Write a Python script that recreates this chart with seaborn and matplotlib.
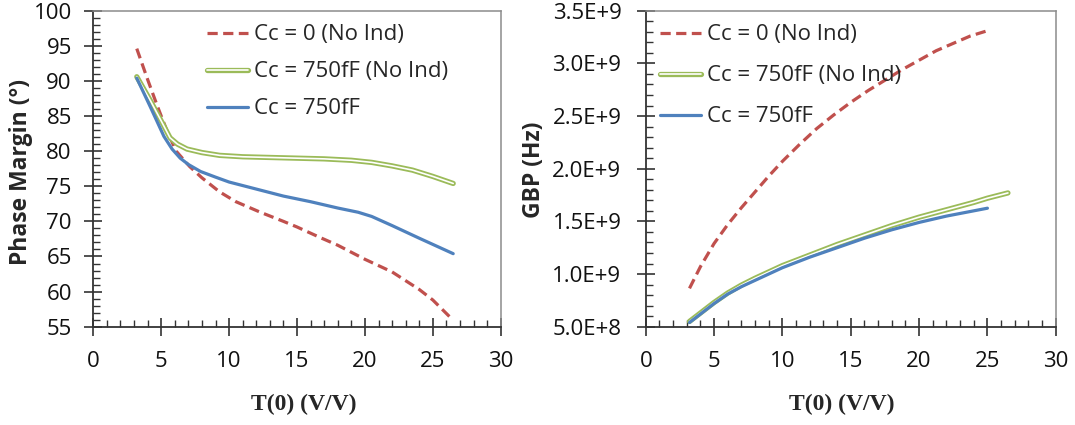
import numpy as np
import matplotlib
matplotlib.use("Agg")
import matplotlib.pyplot as plt
import matplotlib.patheffects as pe
from matplotlib.ticker import MultipleLocator, FuncFormatter
import seaborn as sns

# ---------------- data ----------------
# Phase margin panel
pm_red_x = [3.2, 4, 4.7, 5.4, 6.1, 7.1, 8, 9.3, 10.5, 12.3, 14, 15, 16.7, 18, 20, 22, 24, 25, 26.3]
pm_red_y = [94.6, 90.2, 86.5, 83.0, 80.0, 77.8, 76.2, 74.2, 72.8, 71.3, 70.0, 69.2, 67.7, 66.6, 64.6, 62.8, 60.3, 58.8, 56.3]

pm_green_x = [3.2, 4.2, 5, 5.65, 6.2, 6.9, 8, 9.3, 11, 13, 15, 17, 19, 20.5, 22, 23.5, 25, 26.5]
pm_green_y = [90.6, 87.2, 84.3, 81.9, 81.0, 80.3, 79.8, 79.4, 79.2, 79.1, 79.0, 78.9, 78.7, 78.4, 77.9, 77.3, 76.4, 75.4]

pm_blue_x = [3.2, 4.2, 5.2, 5.8, 6.4, 7, 7.9, 9, 10, 12, 14, 16, 18, 19.5, 20.5, 22, 24, 26.5]
pm_blue_y = [90.4, 86.3, 82.1, 80.3, 79.0, 78.1, 77.1, 76.3, 75.6, 74.6, 73.6, 72.8, 71.9, 71.3, 70.7, 69.4, 67.6, 65.4]

# GBP panel
gbp_red_x = [3.2, 4, 5, 6, 7, 8, 9, 10, 11.25, 12.5, 13.75, 15, 16.25, 17.5, 18.75, 20, 21.25, 22.5, 23.75, 25]
gbp_red_y = [0.864e9, 1.07e9, 1.29e9, 1.47e9, 1.63e9, 1.78e9, 1.93e9, 2.07e9, 2.23e9, 2.38e9, 2.51e9, 2.63e9,
             2.74e9, 2.84e9, 2.94e9, 3.03e9, 3.12e9, 3.19e9, 3.26e9, 3.31e9]

gbp_green_x = [3.2, 4, 5, 6, 7, 8, 9, 10, 12, 14, 16, 18, 20, 22, 24, 25, 26.5]
gbp_green_y = [0.55e9, 0.63e9, 0.73e9, 0.82e9, 0.895e9, 0.96e9, 1.02e9, 1.08e9, 1.18e9, 1.28e9, 1.37e9,
               1.46e9, 1.54e9, 1.61e9, 1.68e9, 1.72e9, 1.77e9]

gbp_blue_x = [3.2, 4, 5, 6, 7, 8, 9, 10, 12, 14, 16, 18, 20, 22, 24, 25]
gbp_blue_y = [0.54e9, 0.62e9, 0.72e9, 0.81e9, 0.88e9, 0.94e9, 1.0e9, 1.06e9, 1.16e9, 1.25e9, 1.34e9,
              1.42e9, 1.49e9, 1.55e9, 1.60e9, 1.625e9]

labels = ["Cc = 0 (No Ind)", "Cc = 750fF (No Ind)", "Cc = 750fF"]
xticks = [0, 5, 10, 15, 20, 25, 30]

RED = "#C0504D"
GREEN = "#9BBB59"
BLUE = "#4F81BD"

# ---------------- style ----------------
sns.set_style("white")
plt.rcParams["font.family"] = ["Open Sans", "DejaVu Sans"]

fig = plt.figure(figsize=(10.75, 4.25), dpi=100)
ax1 = fig.add_axes([0.0868, 0.2313, 0.379, 0.7435])
ax2 = fig.add_axes([0.6007, 0.2313, 0.3814, 0.7435])

green_fx = [pe.Stroke(linewidth=3.8, foreground=GREEN), pe.Normal()]


def draw(ax, rx, ry, gx, gy, bx, by):
    sns.lineplot(x=rx, y=ry, ax=ax, color=RED, linewidth=2.3, dashes=False,
                 label=labels[0], sort=False, estimator=None)
    ax.lines[-1].set_linestyle((0, (3.2, 1.7)))
    ax.lines[-1].set_dash_capstyle("butt")
    sns.lineplot(x=gx, y=gy, ax=ax, color="white", linewidth=1.2,
                 label=labels[1], sort=False, estimator=None)
    ax.lines[-1].set_path_effects(green_fx)
    sns.lineplot(x=bx, y=by, ax=ax, color=BLUE, linewidth=2.3,
                 label=labels[2], sort=False, estimator=None)


draw(ax1, pm_red_x, pm_red_y, pm_green_x, pm_green_y, pm_blue_x, pm_blue_y)
draw(ax2, gbp_red_x, gbp_red_y, gbp_green_x, gbp_green_y, gbp_blue_x, gbp_blue_y)

for ax in (ax1, ax2):
    ax.set_xlim(0, 30)
    ax.set_xticks(xticks)
    ax.xaxis.set_minor_locator(MultipleLocator(1))
    for side in ("left", "bottom"):
        ax.spines[side].set_color("#333333")
        ax.spines[side].set_linewidth(1.3)
    for side in ("top", "right"):
        ax.spines[side].set_color("#8c8c8c")
        ax.spines[side].set_linewidth(1.1)
    ax.tick_params(which="major", direction="inout", length=13, width=1.2,
                   labelsize=16, color="#333333", labelcolor="#111111")
    ax.tick_params(which="minor", direction="in", length=5, width=1.0, color="#333333")
    ax.tick_params(axis="x", which="both", bottom=True)
    ax.tick_params(axis="y", which="both", left=True)
    ax.tick_params(axis="x", which="major", pad=11)
    ax.set_xlabel("T(0) (V/V)", fontsize=17, fontweight="bold",
                  family=["Liberation Serif"], va="center")

ax1.xaxis.set_label_coords(0.517, -0.247)
ax2.xaxis.set_label_coords(0.479, -0.247)

ax1.set_ylim(55, 100)
ax1.set_yticks(np.arange(55, 101, 5))
ax1.yaxis.set_minor_locator(MultipleLocator(1))
ax1.tick_params(axis="y", which="major", pad=9)
ax1.set_ylabel("Phase Margin (°)", fontsize=16.5, fontweight="bold", va="center")
ax1.yaxis.set_label_coords(-0.178, 0.4905)

ax2.set_ylim(0.5e9, 3.5e9)
ax2.set_yticks(np.arange(0.5e9, 3.51e9, 0.5e9))
ax2.yaxis.set_minor_locator(MultipleLocator(0.1e9))
ax2.tick_params(axis="y", which="major", pad=11)


def sci(v, pos):
    if v <= 0:
        return "0"
    e = int(np.floor(np.log10(v) + 1e-9))
    m = v / 10 ** e
    return f"{m:.1f}E+{e}"


ax2.yaxis.set_major_formatter(FuncFormatter(sci))
ax2.set_ylabel("GBP (Hz)", fontsize=16.5, fontweight="bold", va="center")
ax2.yaxis.set_label_coords(-0.272, 0.496)

leg_kw = dict(frameon=False, fontsize=16, handlelength=1.85, handletextpad=0.27,
              borderpad=0, borderaxespad=0)
ax1.legend(loc="upper left", bbox_to_anchor=(0.279, 0.957), labelspacing=0.72, **leg_kw)
ax2.legend(loc="upper left", bbox_to_anchor=(0.035, 0.957), labelspacing=0.9, **leg_kw)

fig.savefig("out.png", dpi=100)
